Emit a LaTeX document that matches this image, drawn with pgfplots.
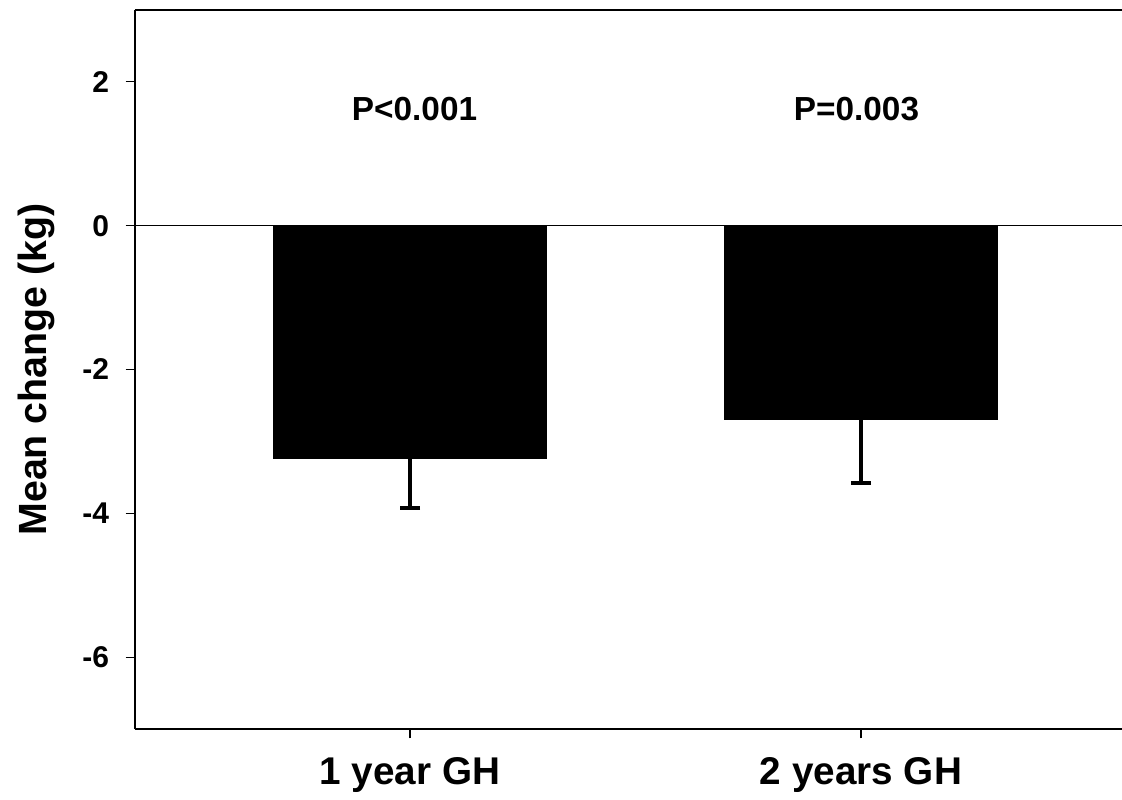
\documentclass[border=0pt]{standalone}
\usepackage{pgfplots}
\pgfplotsset{compat=1.18}
\usepackage{fontspec}
\setmainfont{Liberation Sans}
\begin{document}
\begin{tikzpicture}
\begin{axis}[
  at={(0,0)}, anchor=south west,
  scale only axis,
  width=740.25pt, height=539.25pt,
  xmin=-0.6098, xmax=1.5787,
  ymin=-7, ymax=3,
  axis x line=box, axis y line=left,
  axis line style={-, line width=1.5pt},
  xtick={0,1}, xticklabels={1 year GH, 2 years GH},
  xtick pos=bottom,
  ytick={-6,-4,-2,0,2}, yticklabels={-6,-4,-2,0,2},
  ytick pos=left,
  tick align=outside,
  major tick length=7pt,
  tick style={line width=0.8pt, black},
  xticklabel style={font=\fontsize{29}{32}\selectfont\bfseries, yshift=-11pt},
  yticklabel style={font=\fontsize{22.5}{25}\selectfont\bfseries, xshift=-9pt},
  ylabel={Mean change (kg)},
  every axis y label/.style={at={(ticklabel cs:0.5)}, rotate=90, anchor=south, yshift=14pt, font=\fontsize{29.5}{32}\selectfont\bfseries},
  ybar, bar width=0.605,
  clip=false,
]
\draw[line width=0.8pt] (axis cs:-0.6098,0) -- (axis cs:1.5787,0);
\addplot[fill=black, draw=black,
  error bars/.cd, y dir=minus, y explicit, error mark=|,
  error bar style={line width=3pt, black},
  error mark options={line width=3pt, mark size=7.5pt, black}]
  coordinates {(0,-3.24) +- (0,0.68) (1,-2.69) +- (0,0.89)};
\node[font=\fontsize{25}{28}\selectfont\bfseries] at (axis cs:0.01,1.62) {P<0.001};
\node[font=\fontsize{25}{28}\selectfont\bfseries] at (axis cs:0.99,1.62) {P=0.003};
\end{axis}
\pgfresetboundingbox
\path (-101.25pt,-53.25pt) rectangle (740.25pt,546.75pt);
\end{tikzpicture}
\end{document}
